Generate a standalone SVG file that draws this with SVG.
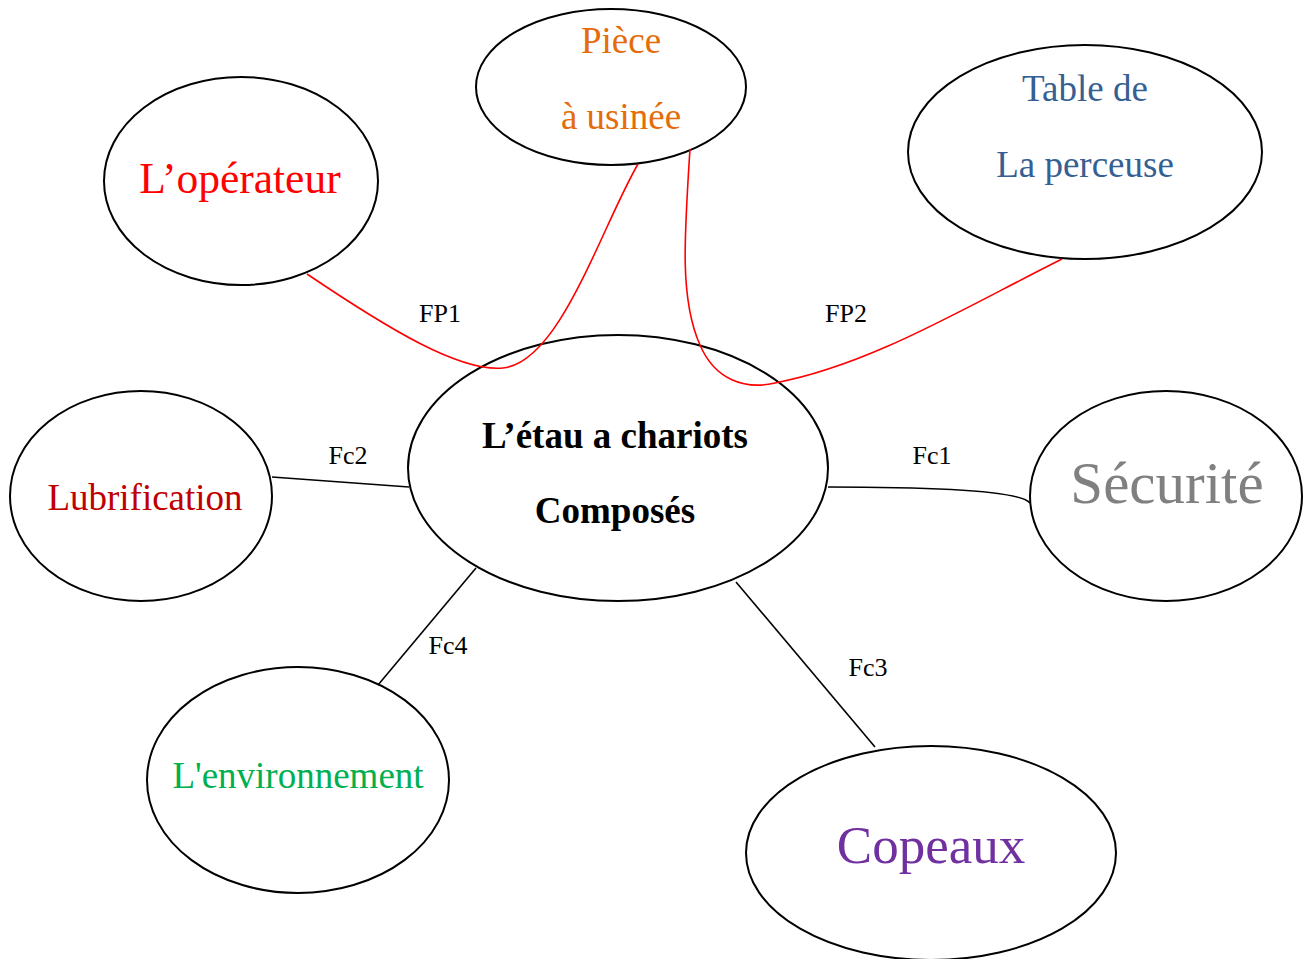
<svg xmlns="http://www.w3.org/2000/svg" width="1304" height="959" viewBox="0 0 1304 959">
<style>
.node ellipse{fill:#fff;stroke:#000;stroke-width:2}
text{font-family:"Liberation Serif","Times New Roman",serif;text-anchor:middle}
.t{font-size:37px}
.lbl{font-size:26px;fill:#000}
.c{fill:none;stroke-width:1.6}
.red{stroke:#FF0000}
.blk{stroke:#000}
</style>
<rect width="1304" height="959" fill="#fff"/>
<g id="piece" class="node">
<ellipse cx="611" cy="87" rx="135" ry="78"/>
<text class="t" x="621" y="53" fill="#E46C0A">Pièce</text>
<text class="t" x="621" y="129" fill="#E46C0A">à usinée</text>
</g>
<g id="operateur" class="node">
<ellipse cx="241" cy="181" rx="137" ry="104"/>
<text x="240" y="193" font-size="43.5" fill="#FF0000">L’opérateur</text>
</g>
<g id="table" class="node">
<ellipse cx="1085" cy="152" rx="177" ry="107"/>
<text class="t" x="1085" y="101" fill="#366092">Table de</text>
<text class="t" x="1085" y="177" fill="#366092">La perceuse</text>
</g>
<g id="etau" class="node">
<ellipse cx="618" cy="468" rx="210" ry="133"/>
<text class="t" x="615" y="448" font-weight="bold" fill="#000">L’étau a chariots</text>
<text class="t" x="615" y="523" font-weight="bold" fill="#000">Composés</text>
</g>
<g id="lubrification" class="node">
<ellipse cx="141" cy="496" rx="131" ry="105"/>
<text class="t" x="145" y="510" fill="#C00000">Lubrification</text>
</g>
<g id="securite" class="node">
<ellipse cx="1166" cy="496" rx="136" ry="105"/>
<text x="1167" y="503" font-size="59" fill="#808080">Sécurité</text>
</g>
<g id="environnement" class="node">
<ellipse cx="298" cy="780" rx="151" ry="113"/>
<text class="t" x="298" y="788" fill="#00B050">L'environnement</text>
</g>
<g id="copeaux" class="node">
<ellipse cx="931" cy="853" rx="185" ry="107"/>
<text x="931" y="863" font-size="53" fill="#7030A0">Copeaux</text>
</g>
<g id="connectors">
<path class="c red" d="M307,274 C390,330 460,372 503,368 C560,362 600,230 638,164"/>
<path class="c red" d="M690,149 C684,240 680,300 700,345 C715,380 745,390 775,383 C870,365 960,310 1062,259"/>
<path class="c blk" d="M272,477 L409,487"/>
<path class="c blk" d="M828,487 C930,487 1020,490 1030,503"/>
<path class="c blk" d="M476,568 L378,685"/>
<path class="c blk" d="M736,582 L875,747"/>
<text class="lbl" x="440" y="322">FP1</text>
<text class="lbl" x="846" y="322">FP2</text>
<text class="lbl" x="348" y="464">Fc2</text>
<text class="lbl" x="932" y="464">Fc1</text>
<text class="lbl" x="448" y="654">Fc4</text>
<text class="lbl" x="868" y="676">Fc3</text>
</g>
</svg>
